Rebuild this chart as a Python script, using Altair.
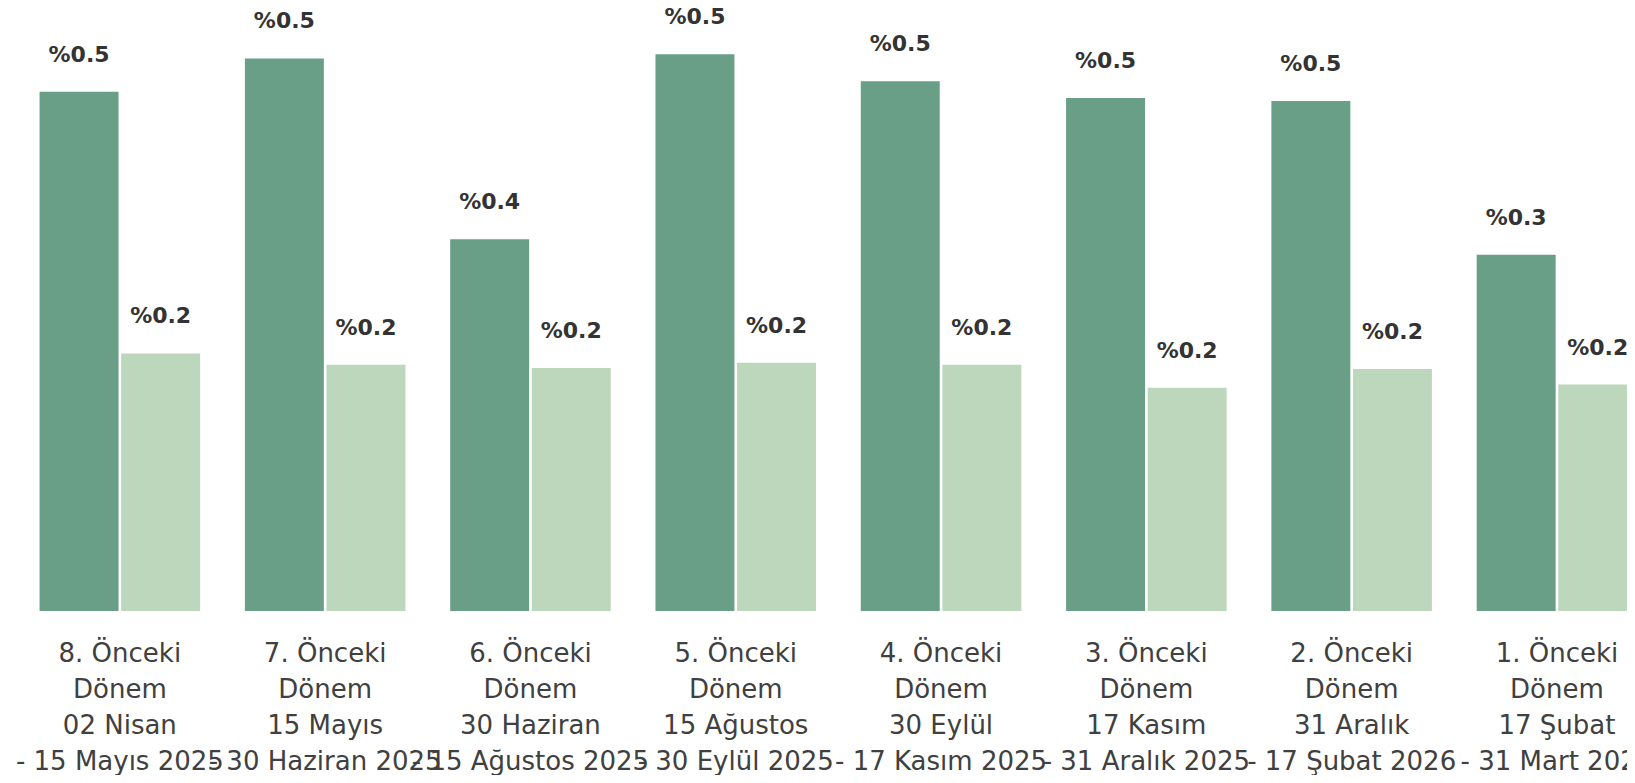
import altair as alt
import pandas as pd

periods = [
    "8. Önceki|Dönem|02 Nisan|- 15 Mayıs 2025",
    "7. Önceki|Dönem|15 Mayıs|- 30 Haziran 2025",
    "6. Önceki|Dönem|30 Haziran|- 15 Ağustos 2025",
    "5. Önceki|Dönem|15 Ağustos|- 30 Eylül 2025",
    "4. Önceki|Dönem|30 Eylül|- 17 Kasım 2025",
    "3. Önceki|Dönem|17 Kasım|- 31 Aralık 2025",
    "2. Önceki|Dönem|31 Aralık|- 17 Şubat 2026",
    "1. Önceki|Dönem|17 Şubat|- 31 Mart 2026",
]
series_a = [0.500, 0.532, 0.358, 0.536, 0.510, 0.494, 0.491, 0.343]
series_b = [0.248, 0.237, 0.234, 0.239, 0.237, 0.215, 0.233, 0.218]
series_names = ["A", "B"]
colors = ["#6a9f87", "#bdd7bc"]

rows = []
for p, a, b in zip(periods, series_a, series_b):
    rows.append({"period": p, "series": series_names[0], "value": a})
    rows.append({"period": p, "series": series_names[1], "value": b})
df = pd.DataFrame(rows)

x = alt.X(
    "period:N",
    sort=periods,
    scale=alt.Scale(paddingInner=0.218, paddingOuter=0.109, range=[0, 1642.4]),
    axis=alt.Axis(
        title=None,
        labelAngle=0,
        labelExpr="split(datum.label, '|')",
        labelFont="DejaVu Sans",
        labelFontSize=26,
        labelLineHeight=36,
        labelColor="#404040",
        labelPadding=29,
        labelOverlap=False,
        labelLimit=0,
        labelBound=False,
        labelFlush=False,
        ticks=False,
        domain=False,
        grid=False,
    ),
)
xo = alt.XOffset(
    "series:N",
    sort=series_names,
    scale=alt.Scale(paddingInner=0.032, paddingOuter=0),
)
y = alt.Y("value:Q", scale=alt.Scale(domain=[0, 0.5806], nice=False), axis=None)

base = alt.Chart(df).encode(x=x, xOffset=xo, y=y)

bars = base.mark_bar(clip=True).encode(
    color=alt.Color(
        "series:N",
        scale=alt.Scale(domain=series_names, range=colors),
        legend=None,
    )
)
labels = base.mark_text(
    dy=-37,
    baseline="middle",
    font="DejaVu Sans",
    fontSize=22,
    fontWeight="bold",
    color="#333333",
).encode(text=alt.Text("label:N")).transform_calculate(
    label="'%' + format(datum.value, '.1f')"
)

chart = (
    alt.layer(bars, labels)
    .properties(
        width=1609.8,
        height=603,
        padding={"left": 9.2, "top": 0, "right": 0, "bottom": 164},
        autosize=alt.AutoSizeParams(type="none"),
        background="white",
    )
    .configure_view(stroke=None, strokeWidth=0)
)

chart.save("out.html", embed_options={"renderer": "svg", "actions": False})
